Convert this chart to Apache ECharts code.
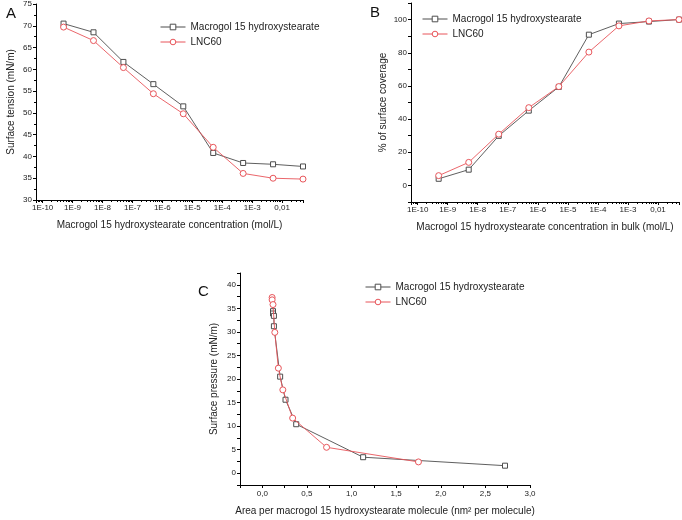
<!DOCTYPE html>
<html>
<head>
<meta charset="utf-8">
<script src="https://cdn.jsdelivr.net/npm/echarts@6/dist/echarts.min.js"></script>
<style>
  html, body { margin: 0; padding: 0; background: #fff; }
  #main { width: 682px; height: 520px; }
</style>
</head>
<body>
<div id="main"></div>
<script>
var seriesNames = ['Macrogol 15 hydroxystearate', 'LNC60'];

// panel A and B share the concentration points (mol/L)
var conc = [5e-10, 5e-9, 5e-8, 5e-7, 5e-6, 5e-5, 5e-4, 5e-3, 5e-2];

// A: surface tension (mN/m)
var tensionMacrogol = [70.5, 68.5, 61.7, 56.6, 51.5, 40.8, 38.5, 38.2, 37.7];
var tensionLNC = [69.7, 66.6, 60.4, 54.4, 49.8, 42.1, 36.1, 35.0, 34.8];

// B: % of surface coverage
var coverMacrogol = [4.0, 9.5, 29.9, 45.1, 59.4, 90.9, 97.6, 98.8, 100];
var coverLNC = [5.9, 13.9, 30.9, 46.9, 59.6, 80.4, 96.2, 99.2, 100];

// C: area per molecule (nm2) / surface pressure (mN/m)
var areaMacrogol = [0.12, 0.12, 0.13, 0.13, 0.20, 0.26, 0.38, 1.13, 2.72];
var pressMacrogol = [34.4, 33.9, 33.4, 31.2, 20.5, 15.6, 10.4, 3.4, 1.6];
var areaLNC = [0.11, 0.11, 0.12, 0.14, 0.18, 0.23, 0.34, 0.72, 1.75];
var pressLNC = [37.3, 36.8, 35.8, 29.9, 22.3, 17.7, 11.7, 5.5, 2.4];

function pairs(xs, ys) {
  var out = [];
  for (var i = 0; i < xs.length; i++) out.push([xs[i], ys[i]]);
  return out;
}

var black = '#4d4d4d';
var red = '#e8555a';
var txt = '#222';

function logLabel(v) {
  var e = Math.log10(v);
  if (Math.abs(e - Math.round(e)) > 1e-6) return '';
  e = Math.round(e);
  if (e === -2) return '0,01';
  if (e > -2) return '';
  return '1E' + e;
}

function axisBase() {
  return {
    axisLine: { show: true, onZero: false, lineStyle: { color: '#000', width: 1 } },
    axisTick: { show: true, inside: false, length: 3, lineStyle: { color: '#000' } },
    axisLabel: { fontSize: 8, color: txt, margin: 4, fontFamily: 'Liberation Sans' },
    splitLine: { show: false },
    nameLocation: 'middle',
    nameTextStyle: { fontSize: 10, color: txt, fontFamily: 'Liberation Sans' }
  };
}

function ax(extra) {
  var a = axisBase();
  for (var k in extra) a[k] = extra[k];
  return a;
}

function legendAt(left, top) {
  return {
    data: seriesNames, left: left, top: top, orient: 'vertical',
    itemWidth: 25, itemHeight: 7, itemGap: 5,
    lineStyle: { width: 1 },
    itemStyle: { borderWidth: 1 },
    textStyle: { fontSize: 10, color: txt },
    selectedMode: false
  };
}

// hollow markers: white fill + thin coloured border
function line(name, data, xi, yi, color, symbol, size) {
  return {
    name: name,
    type: 'line',
    xAxisIndex: xi,
    yAxisIndex: yi,
    data: data,
    symbol: symbol,
    symbolSize: size,
    showAllSymbol: true,
    lineStyle: { color: color, width: 0.9 },
    itemStyle: { color: '#fff', borderColor: color, borderWidth: 1 },
    emphasis: { disabled: true },
    z: symbol === 'circle' ? 3 : 2
  };
}

var myChart = echarts.init(document.getElementById('main'));

myChart.setOption({
  animation: false,
  backgroundColor: '#fff',
  textStyle: { fontFamily: 'Liberation Sans' },
  title: [
    { text: 'A', left: 1, top: 1, textStyle: { fontSize: 15, fontWeight: 'normal', color: '#111' } },
    { text: 'B', left: 365, top: 0, textStyle: { fontSize: 15, fontWeight: 'normal', color: '#111' } },
    { text: 'C', left: 193, top: 279, textStyle: { fontSize: 15, fontWeight: 'normal', color: '#111' } }
  ],
  legend: [legendAt(155, 17), legendAt(417, 9), legendAt(360, 277)],
  grid: [
    { left: 36, right: 379, top: 4, bottom: 320 },
    { left: 411, right: 0, top: 3, bottom: 318 },
    { left: 240, right: 152, top: 273, bottom: 35 }
  ],
  xAxis: [
    ax({ type: 'log', logBase: 10, gridIndex: 0, min: 6e-11, max: 0.05, splitNumber: 9,
      name: 'Macrogol 15 hydroxystearate concentration (mol/L)', nameGap: 20,
      axisLabel: { fontSize: 8, color: txt, margin: 4, formatter: logLabel },
      minorTick: { show: true, splitNumber: 9, length: 2, lineStyle: { color: '#000' } } }),
    ax({ type: 'log', logBase: 10, gridIndex: 1, min: 6e-11, max: 0.05, splitNumber: 9,
      name: 'Macrogol 15 hydroxystearate concentration in bulk (mol/L)', nameGap: 20,
      axisLabel: { fontSize: 8, color: txt, margin: 4, formatter: logLabel },
      minorTick: { show: true, splitNumber: 9, length: 2, lineStyle: { color: '#000' } } }),
    ax({ type: 'value', gridIndex: 2, min: -0.25, max: 3, interval: 0.25,
      name: 'Area per macrogol 15 hydroxystearate molecule (nm² per molecule)', nameGap: 21,
      axisLabel: { fontSize: 8, color: txt, margin: 5, formatter: function (v) {
        var r = Math.round(v * 100) / 100;
        if (r < 0 || Math.abs(r * 2 - Math.round(r * 2)) > 1e-6) return '';
        return r.toFixed(1).replace('.', ',');
      } } })
  ],
  yAxis: [
    ax({ type: 'value', gridIndex: 0, min: 30, max: 75, interval: 5,
      name: 'Surface tension (mN/m)', nameGap: 20,
      minorTick: { show: true, splitNumber: 2, length: 2, lineStyle: { color: '#000' } } }),
    ax({ type: 'value', gridIndex: 1, min: -10, max: 110, interval: 10,
      name: '% of surface coverage', nameGap: 23,
      axisLabel: { fontSize: 8, color: txt, margin: 4, formatter: function (v) {
        if (v < 0 || v > 100 || v % 20 !== 0) return '';
        return String(v);
      } } }),
    ax({ type: 'value', gridIndex: 2, min: -2.5, max: 42.5, interval: 2.5,
      name: 'Surface pressure (mN/m)', nameGap: 21,
      axisLabel: { fontSize: 8, color: txt, margin: 4, formatter: function (v) {
        if (v < 0 || v > 40 || v % 5 !== 0) return '';
        return String(v);
      } } })
  ],
  series: [
    line(seriesNames[0], pairs(conc, tensionMacrogol), 0, 0, black, 'rect', 5),
    line(seriesNames[1], pairs(conc, tensionLNC), 0, 0, red, 'circle', 6),
    line(seriesNames[0], pairs(conc, coverMacrogol), 1, 1, black, 'rect', 5),
    line(seriesNames[1], pairs(conc, coverLNC), 1, 1, red, 'circle', 6),
    line(seriesNames[0], pairs(areaMacrogol, pressMacrogol), 2, 2, black, 'rect', 5),
    line(seriesNames[1], pairs(areaLNC, pressLNC), 2, 2, red, 'circle', 6)
  ]
});
</script>
</body>
</html>
